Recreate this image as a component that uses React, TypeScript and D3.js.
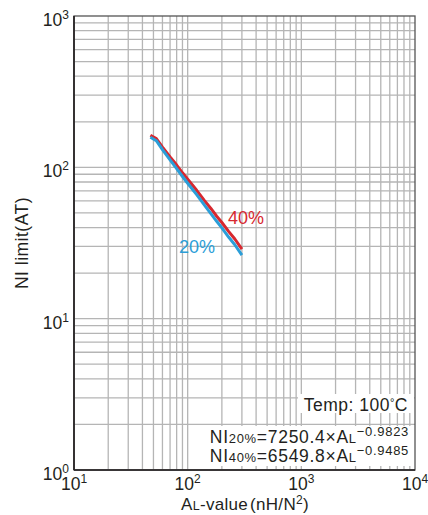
import React from "react";
import * as d3 from "d3";

// AL-value (nH/N^2) sample points
const alValues = [47, 53, 60, 70, 80, 90, 100, 120, 140, 160, 180, 200, 230, 260, 300];
// NI limit (AT) at 20% and 40%
const ni20 = [158, 150, 131, 112, 98, 87, 78.5, 66, 56.5, 49.5, 44, 39.8, 34.5, 30.8, 26.3];
const ni40 = [163, 155, 136, 117, 103.5, 92, 83.5, 70.5, 60.5, 53.5, 47.5, 43.2, 37.6, 33.6, 28.8];

const xTicks = [10, 100, 1000, 10000];
const yTicks = [1, 10, 100, 1000];
const tickExp = ["0", "1", "2", "3", "4"];

const FONT = "'Liberation Sans', Arial, sans-serif";
const INK = "#231f20";

const LEFT = 74;
const RIGHT = 415;
const TOP = 16;
const BOTTOM = 470;

export default function App() {
  const x = d3.scaleLog().domain([10, 10000]).range([LEFT, RIGHT]);
  const y = d3.scaleLog().domain([1, 1000]).range([BOTTOM, TOP]);

  // grid values 1..9 x each decade
  const gridX: number[] = [];
  for (let e = 1; e < 4; e++) for (let m = 1; m < 10; m++) gridX.push(m * 10 ** e);
  const gridY: number[] = [];
  for (let e = 0; e < 3; e++) for (let m = 1; m < 10; m++) gridY.push(m * 10 ** e);

  const line = d3
    .line<[number, number]>()
    .x((d) => x(d[0]))
    .y((d) => y(d[1]))
    .curve(d3.curveLinear);

  const pts20 = alValues.map((a, i) => [a, ni20[i]] as [number, number]);
  const pts40 = alValues.map((a, i) => [a, ni40[i]] as [number, number]);

  const pow = (v: number) => Math.round(Math.log10(v));

  return (
    <svg width={428} height={515} style={{ position: "absolute", left: 0, top: 0 }} fontFamily={FONT}>
      <rect width={428} height={515} fill="white" />
      {/* grid */}
      {gridX.map((g) => (
        <line key={"gx" + g} x1={x(g)} x2={x(g)} y1={TOP} y2={BOTTOM} stroke="#b5b5b5" strokeWidth={1.3} />
      ))}
      {gridY.map((g) => (
        <line key={"gy" + g} x1={LEFT} x2={RIGHT} y1={y(g)} y2={y(g)} stroke="#b5b5b5" strokeWidth={1.3} />
      ))}

      {/* curves */}
      <path d={line(pts40)!} fill="none" stroke="#d7282f" strokeWidth={3} strokeLinejoin="round" />
      <path d={line(pts20)!} fill="none" stroke="#2b9ed8" strokeWidth={3} strokeLinejoin="round" />

      {/* frame */}
      <rect x={LEFT} y={TOP} width={RIGHT - LEFT} height={BOTTOM - TOP} fill="none" stroke="#555" strokeWidth={1.3} />
      <line x1={LEFT} x2={LEFT} y1={TOP} y2={BOTTOM} stroke={INK} strokeWidth={1.6} />
      <line x1={LEFT} x2={RIGHT} y1={BOTTOM} y2={BOTTOM} stroke={INK} strokeWidth={1.6} />

      {/* annotation boxes */}
      <rect x={298} y={394} width={RIGHT - 299} height={19} fill="white" />
      <rect x={204} y={426} width={RIGHT - 205} height={40} fill="white" />
      <text x={408} y={411} fontSize={17.5} fill={INK} textAnchor="end" letterSpacing={0.5}>
        Temp: 100<tspan fontSize={11} dy={-5}>°</tspan>
        <tspan dy={5}>C</tspan>
      </text>
      <text x={409} y={443} fontSize={17.5} fill={INK} textAnchor="end" letterSpacing={0.7}>
        NI<tspan fontSize={13}>20%</tspan>=7250.4×A<tspan fontSize={13}>L</tspan>
        <tspan fontSize={13} dy={-7}>−0.9823</tspan>
      </text>
      <text x={409} y={462} fontSize={17.5} fill={INK} textAnchor="end" letterSpacing={0.7}>
        NI<tspan fontSize={13}>40%</tspan>=6549.8×A<tspan fontSize={13}>L</tspan>
        <tspan fontSize={13} dy={-7}>−0.9485</tspan>
      </text>

      {/* series labels */}
      <text x={228} y={224} fontSize={18} fill="#d7282f">40%</text>
      <text x={179} y={253} fontSize={18} fill="#2b9ed8">20%</text>

      {/* y tick labels */}
      {yTicks.map((t) => (
        <text key={"yt" + t} x={69} y={y(t) + 10} fontSize={17.5} fill={INK} textAnchor="end">
          10<tspan fontSize={12} dy={-7}>{tickExp[pow(t)]}</tspan>
        </text>
      ))}

      {/* x tick labels */}
      {xTicks.map((t) => (
        <text key={"xt" + t} x={x(t)} y={490} fontSize={17.5} fill={INK} textAnchor="middle">
          10<tspan fontSize={12} dy={-7}>{tickExp[pow(t)]}</tspan>
        </text>
      ))}

      {/* axis titles */}
      <text x={245} y={510} fontSize={17} fill={INK} textAnchor="middle" letterSpacing={0.3}>
        A<tspan fontSize={12.5}>L</tspan>-value<tspan dx={2}>(nH/N</tspan>
        <tspan fontSize={12} dy={-6}>2</tspan>
        <tspan dy={6}>)</tspan>
      </text>
      <text
        transform={`translate(28, 243) rotate(-90)`}
        fontSize={17.5}
        fill={INK}
        textAnchor="middle"
        letterSpacing={0.5}
      >
        NI limit(AT)
      </text>
    </svg>
  );
}
